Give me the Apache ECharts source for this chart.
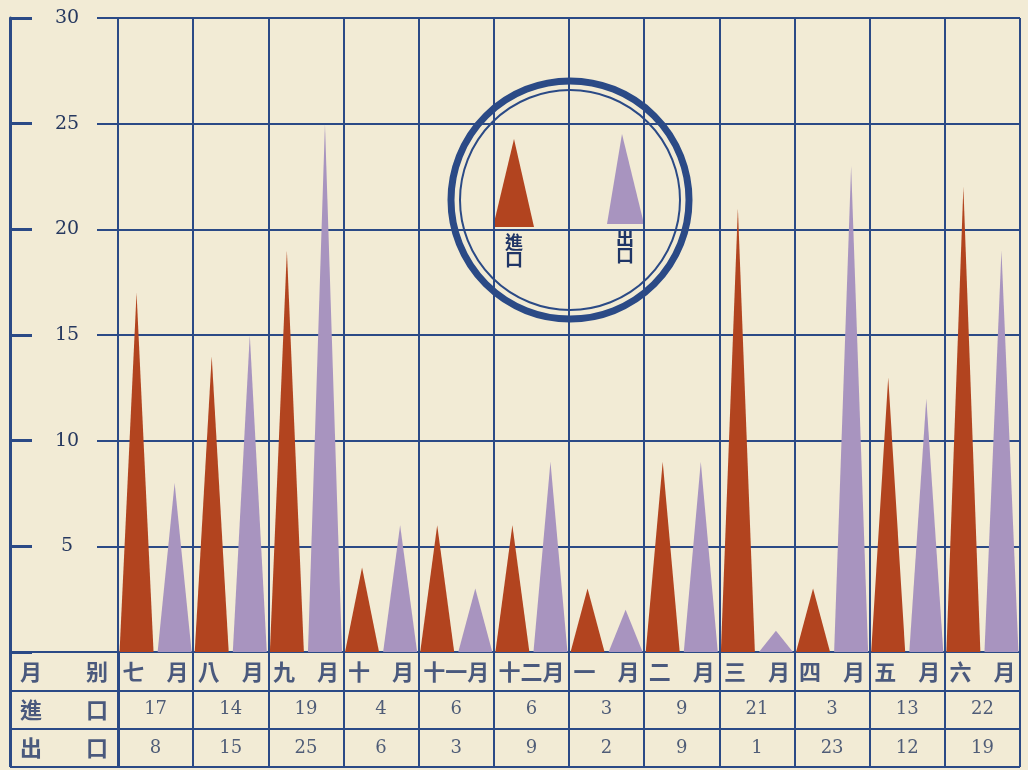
<!DOCTYPE html>
<html><head><meta charset="utf-8">
<script src="https://cdn.jsdelivr.net/npm/echarts@6/dist/echarts.min.js"></script>
<style>html,body{margin:0;padding:0;background:#f2ebd5;}#c{width:1028px;height:770px;}</style>
</head><body><div id="c"></div>
<script>
const months = ['七月','八月','九月','十月','十一月','十二月','一月','二月','三月','四月','五月','六月'];
const monthLabels = ['七　月','八　月','九　月','十　月','十一月','十二月','一　月','二　月','三　月','四　月','五　月','六　月'];
const imports = [17,14,19,4,6,6,3,9,21,3,13,22];
const exportsData = [8,15,25,6,3,9,2,9,1,23,12,19];
const rowKeys = ['月别','進口','出口'];
const rowHeaders = ['月　　别','進　　口','出　　口'];
const yMin = 0, yMax = 30, yStep = 5;
const legendNames = ['進口','出口'];

const BLUE = '#2b4a86';
const BG = '#f2ebd5';
const RED = '#b2441f';
const LAV = '#a894bf';
const CJK = '"Noto Sans CJK TC","Noto Sans CJK SC",sans-serif';
const NUM = '"DejaVu Serif","Liberation Serif",serif';

const tableCells = [];
months.forEach((m, i) => {
  tableCells.push({value: [i, 0], t: monthLabels[i], cjk: true});
  tableCells.push({value: [i, 1], t: String(imports[i])});
  tableCells.push({value: [i, 2], t: String(exportsData[i])});
});
const headerCells = rowHeaders.map((h, r) => ({value: [0, r], t: h}));

const lineStyle = {color: BLUE, width: 2};

const option = {
  backgroundColor: BG,
  animation: false,
  grid: [
    {left: 97, right: 8, top: 18, bottom: 118},
    {left: 118, right: 8, top: 18, bottom: 118},
    {left: 118, right: 8, top: 652, bottom: 3},
    {left: 10, width: 108, top: 652, bottom: 3}
  ],
  xAxis: [
    {gridIndex: 0, type: 'category', data: ['a'], show: false},
    {gridIndex: 1, type: 'category', data: months,
      axisLine: {show: false}, axisTick: {show: false}, axisLabel: {show: false},
      splitLine: {show: true, lineStyle: lineStyle}},
    {gridIndex: 2, type: 'category', data: months,
      axisLine: {show: false}, axisTick: {show: false}, axisLabel: {show: false},
      splitLine: {show: true, lineStyle: lineStyle}},
    {gridIndex: 3, type: 'category', data: ['h'],
      axisLine: {show: false}, axisTick: {show: false}, axisLabel: {show: false},
      splitLine: {show: true, lineStyle: {color: BLUE, width: 3}}}
  ],
  yAxis: [
    {gridIndex: 0, type: 'value', min: yMin, max: yMax, interval: yStep, offset: 87,
      axisLine: {show: true, lineStyle: {color: BLUE, width: 3}},
      axisTick: {show: true, inside: true, length: 22, lineStyle: {color: BLUE, width: 3}},
      axisLabel: {inside: true, margin: 57, align: 'center', color: '#26385f',
        fontFamily: NUM, fontSize: 19,
        formatter: v => v === 0 ? '' : String(v)},
      splitLine: {show: true, lineStyle: lineStyle}},
    {gridIndex: 1, type: 'value', min: yMin, max: yMax, interval: yStep, show: false},
    {gridIndex: 2, type: 'category', data: rowKeys, inverse: true,
      axisLine: {show: false}, axisTick: {show: false}, axisLabel: {show: false},
      splitLine: {show: true, lineStyle: lineStyle}},
    {gridIndex: 3, type: 'category', data: rowKeys, inverse: true,
      axisLine: {show: false}, axisTick: {show: false}, axisLabel: {show: false},
      splitLine: {show: true, lineStyle: lineStyle}}
  ],
  series: [
    {name: legendNames[0], type: 'pictorialBar', xAxisIndex: 1, yAxisIndex: 1,
      symbol: 'triangle', symbolSize: ['100%', '100%'], barWidth: 34, barGap: '12%',
      itemStyle: {color: RED}, data: imports, z: 5},
    {name: legendNames[1], type: 'pictorialBar', xAxisIndex: 1, yAxisIndex: 1,
      symbol: 'triangle', symbolSize: ['100%', '100%'], barWidth: 34, barGap: '12%',
      itemStyle: {color: LAV}, data: exportsData, z: 5},
    {type: 'scatter', xAxisIndex: 2, yAxisIndex: 2, symbolSize: 2,
      itemStyle: {color: 'rgba(0,0,0,0)'}, silent: true, z: 10,
      label: {show: true, position: 'inside',
        formatter: p => p.data.cjk ? '{c|' + p.data.t + '}' : '{n|' + p.data.t + '}',
        rich: {
          c: {fontFamily: CJK, fontWeight: 'bold', fontSize: 22, color: '#1f3566'},
          n: {fontFamily: NUM, fontSize: 18, color: '#26385f'}
        }},
      labelLayout: {hideOverlap: false},
      data: tableCells},
    {type: 'scatter', xAxisIndex: 3, yAxisIndex: 3, symbolSize: 2,
      itemStyle: {color: 'rgba(0,0,0,0)'}, silent: true, z: 10,
      label: {show: true, position: 'inside', formatter: p => p.data.t,
        fontFamily: CJK, fontWeight: 'bold', fontSize: 22, color: '#1f3566'},
      data: headerCells}
  ],
  graphic: [
    {type: 'group', z: 100, children: [
      {type: 'circle', shape: {cx: 570, cy: 200, r: 119},
        style: {fill: BG, stroke: BLUE, lineWidth: 7}},
      {type: 'circle', shape: {cx: 570, cy: 200, r: 110},
        style: {fill: 'none', stroke: BLUE, lineWidth: 2}},
      {type: 'polygon', shape: {points: [[514, 139], [493, 227], [534, 227]]},
        style: {fill: RED}},
      {type: 'polygon', shape: {points: [[622, 134], [607, 224], [644, 224]]},
        style: {fill: LAV}},
      {type: 'text', x: 514, y: 251, style: {text: legendNames[0].split('').join('\n'),
        fontFamily: CJK, fontWeight: 'bold', fontSize: 18, lineHeight: 17,
        fill: '#1f3566', align: 'center', verticalAlign: 'middle'}},
      {type: 'text', x: 625, y: 247, style: {text: legendNames[1].split('').join('\n'),
        fontFamily: CJK, fontWeight: 'bold', fontSize: 18, lineHeight: 17,
        fill: '#1f3566', align: 'center', verticalAlign: 'middle'}}
    ]}
  ]
};

const chart = echarts.init(document.getElementById('c'), null, {renderer: 'canvas'});
chart.setOption(option);
</script></body></html>
